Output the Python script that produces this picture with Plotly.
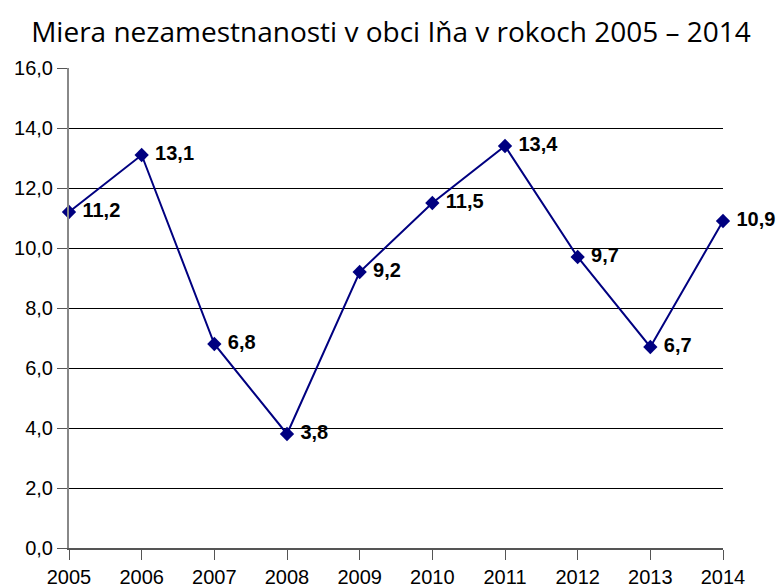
import plotly.graph_objects as go

years = [2005, 2006, 2007, 2008, 2009, 2010, 2011, 2012, 2013, 2014]
rates = [11.2, 13.1, 6.8, 3.8, 9.2, 11.5, 13.4, 9.7, 6.7, 10.9]
rate_labels = ["11,2", "13,1", "6,8", "3,8", "9,2", "11,5", "13,4", "9,7", "6,7", "10,9"]
y_ticks = [0, 2, 4, 6, 8, 10, 12, 14, 16]
y_tick_labels = ["0,0", "2,0", "4,0", "6,0", "8,0", "10,0", "12,0", "14,0", "16,0"]
title = "Miera nezamestnanosti v obci Iňa v rokoch 2005 – 2014"

fig = go.Figure()
fig.add_trace(go.Scatter(
    x=years, y=rates, mode="lines+markers+text",
    text=[" " + t for t in rate_labels], textposition="middle right",
    textfont=dict(family="Liberation Sans, Arial", size=20, color="black", weight="bold"),
    line=dict(color="#000080", width=2),
    marker=dict(symbol="diamond", size=11, color="#000080"),
    cliponaxis=False, showlegend=False, hoverinfo="skip",
))

fig.update_layout(
    width=782, height=588,
    margin=dict(l=69, r=59, t=68, b=40),
    paper_bgcolor="white", plot_bgcolor="white",
    title=dict(text=title, x=0.5, xanchor="center", y=0.945, yanchor="middle",
               font=dict(family="Open Sans", size=28, color="black")),
    font=dict(family="Liberation Sans, Arial", size=20, color="black"),
)
fig.update_xaxes(
    range=[2005, 2014], tickvals=years, ticktext=[str(y) for y in years],
    showgrid=False, zeroline=False, showline=True, linecolor="#555555", linewidth=1.5,
    ticks="outside", ticklen=10, tickcolor="#555555", tickwidth=1,
    tickfont=dict(size=20), automargin=False,
)
fig.update_yaxes(
    range=[0, 16], tickvals=y_ticks, ticktext=y_tick_labels,
    showgrid=True, gridcolor="black", gridwidth=1, zeroline=False,
    showline=True, linecolor="#888888", linewidth=2,
    ticks="outside", ticklen=10, tickcolor="#555555",
    tickfont=dict(size=20), automargin=False,
)

fig.write_html("out.html", config={"displayModeBar": False},
               post_script="document.body.style.margin='0';")
